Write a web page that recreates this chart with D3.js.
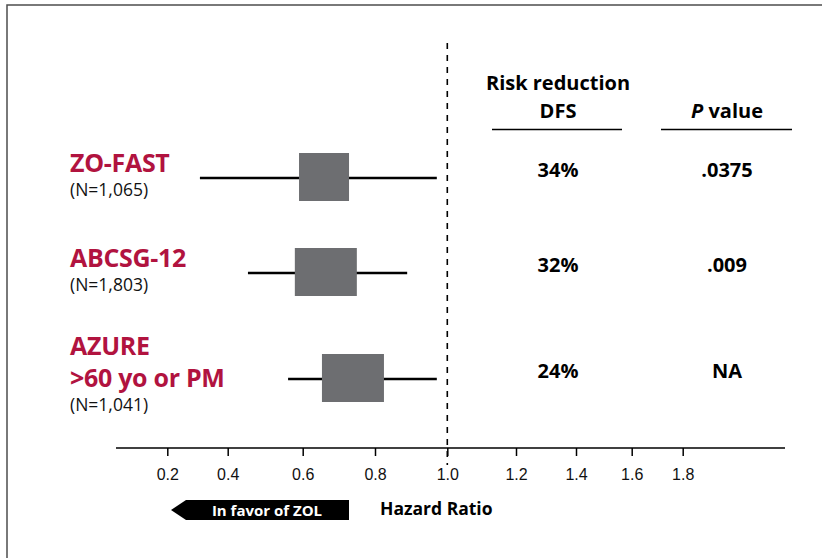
<!DOCTYPE html>
<html>
  <head>
    <meta charset="utf-8">
    <title>Forest plot</title>
    <script src="https://cdn.jsdelivr.net/npm/d3@7"></script>
    <style type="text/css">
      body { margin: 0; background: #fff; }
      text { font-family: "Open Sans", "Noto Sans", sans-serif; }
      .tick text { font-family: "Liberation Sans Narrow", "Arial Narrow", sans-serif; }
    </style>
  </head>
  <body>
    <script>
    // data
    var trials = ["ZO-FAST", "ABCSG-12", "AZURE"];
    var labelLines = [["ZO-FAST"], ["ABCSG-12"], ["AZURE", ">60 yo or PM"]];
    var sizes = ["(N=1,065)", "(N=1,803)", "(N=1,041)"];
    var hr = [0.659, 0.664, 0.739];
    var hrLow = [0.308, 0.454, 0.561];
    var hrHigh = [0.971, 0.889, 0.971];
    var riskReduction = ["34%", "32%", "24%"];
    var pValues = [".0375", ".009", "NA"];
    var tickValues = [0.2, 0.4, 0.6, 0.8, 1.0, 1.2, 1.4, 1.6, 1.8];

    // layout
    var width = 822, height = 558;
    var red = "#b1133f", grey = "#6d6e71";
    var tickPx = [167.3, 227.7, 302.7, 375, 447.3, 516, 576, 631.7, 682.7]; // axis is hand spaced
    var rowY = [178, 273, 379];
    var boxWidth = [50, 62, 62], boxHeight = 48;
    var axisY = 448;

    var x = d3.scaleLinear().domain(tickValues).range(tickPx);
    var y = d3.scaleOrdinal().domain(trials).range(rowY);

    var svg = d3.select("body").append("svg")
      .attr("width", width)
      .attr("height", height);

    // frame
    svg.append("rect")
      .attr("x", 7).attr("y", 5)
      .attr("width", 840).attr("height", 580)
      .attr("fill", "none")
      .attr("stroke", "#4d4d4d")
      .attr("stroke-width", 1.5);

    // reference line at HR = 1
    svg.append("line")
      .attr("x1", x(1)).attr("x2", x(1))
      .attr("y1", 43).attr("y2", 465)
      .attr("stroke", "#000")
      .attr("stroke-width", 1.6)
      .attr("stroke-dasharray", "6,6");

    // axis
    svg.append("line")
      .attr("x1", 116).attr("x2", 785)
      .attr("y1", axisY).attr("y2", axisY)
      .attr("stroke", "#000").attr("stroke-width", 1.5);

    var axis = svg.append("g")
      .attr("transform", "translate(0," + axisY + ")")
      .call(d3.axisBottom(x).tickValues(tickValues).tickSize(8).tickPadding(13)
        .tickFormat(d3.format(".1f")));
    axis.select(".domain").remove();
    axis.selectAll(".tick line").attr("stroke", "#000").attr("stroke-width", 1.5);
    axis.selectAll(".tick text").attr("font-size", 16).attr("fill", "#111");

    // confidence intervals
    svg.selectAll("line.ci")
      .data(trials)
      .enter()
      .append("line")
      .attr("class", "ci")
      .attr("x1", function(d, i) { return x(hrLow[i]); })
      .attr("x2", function(d, i) { return x(hrHigh[i]); })
      .attr("y1", function(d) { return y(d); })
      .attr("y2", function(d) { return y(d); })
      .attr("stroke", "#000")
      .attr("stroke-width", 2.6);

    // point estimates
    svg.selectAll("rect.box")
      .data(trials)
      .enter()
      .append("rect")
      .attr("class", "box")
      .attr("x", function(d, i) { return x(hr[i]) - boxWidth[i] / 2; })
      .attr("y", function(d) { return y(d) - boxHeight / 2 - 1; })
      .attr("width", function(d, i) { return boxWidth[i]; })
      .attr("height", boxHeight)
      .attr("fill", grey);

    // trial labels
    trials.forEach(function(t, i) {
      var lines = labelLines[i];
      var top = y(t) - 6 - (lines.length - 1) * 18;
      lines.forEach(function(s, j) {
        svg.append("text")
          .attr("x", 70)
          .attr("y", top + j * 32)
          .attr("font-size", 25)
          .attr("font-weight", 700)
          .attr("letter-spacing", -0.3)
          .attr("fill", red)
          .text(s);
      });
      svg.append("text")
        .attr("x", 70)
        .attr("y", top + (lines.length - 1) * 32 + 24)
        .attr("font-size", 17.5)
        .attr("fill", "#111")
        .text(sizes[i]);
    });

    // table headers
    var colRisk = 558, colP = 727;
    svg.append("text").attr("x", colRisk).attr("y", 90)
      .attr("text-anchor", "middle").attr("font-size", 20).attr("font-weight", 700)
      .text("Risk reduction");
    svg.append("text").attr("x", colRisk).attr("y", 118)
      .attr("text-anchor", "middle").attr("font-size", 20).attr("font-weight", 700)
      .text("DFS");
    var ph = svg.append("text").attr("x", colP).attr("y", 118)
      .attr("text-anchor", "middle").attr("font-size", 20).attr("font-weight", 700);
    ph.append("tspan").attr("font-style", "italic").text("P");
    ph.append("tspan").text(" value");

    svg.append("line").attr("x1", 492).attr("x2", 622).attr("y1", 129.5).attr("y2", 129.5)
      .attr("stroke", "#000").attr("stroke-width", 1.3);
    svg.append("line").attr("x1", 661).attr("x2", 792).attr("y1", 129.5).attr("y2", 129.5)
      .attr("stroke", "#000").attr("stroke-width", 1.3);

    svg.selectAll("text.rr")
      .data(trials)
      .enter()
      .append("text")
      .attr("class", "rr")
      .attr("x", colRisk)
      .attr("y", function(d) { return y(d) - 1; })
      .attr("text-anchor", "middle")
      .attr("font-size", 20).attr("font-weight", 700)
      .text(function(d, i) { return riskReduction[i]; });

    svg.selectAll("text.pv")
      .data(trials)
      .enter()
      .append("text")
      .attr("class", "pv")
      .attr("x", colP)
      .attr("y", function(d) { return y(d) - 1; })
      .attr("text-anchor", "middle")
      .attr("font-size", 20).attr("font-weight", 700)
      .text(function(d, i) { return pValues[i]; });

    // favour arrow
    svg.append("path")
      .attr("d", "M171,510 L186,500 L349,500 L349,520 L186,520 Z")
      .attr("fill", "#000");
    svg.append("text")
      .attr("x", 267).attr("y", 515.5)
      .attr("text-anchor", "middle")
      .attr("font-family", "'Liberation Sans Narrow', 'Arial Narrow', sans-serif")
      .attr("font-size", 15).attr("font-weight", 700)
      .attr("fill", "#fff")
      .text("In favor of ZOL");

    svg.append("text")
      .attr("x", 380).attr("y", 515)
      .attr("font-size", 17.5).attr("font-weight", 700)
      .text("Hazard Ratio");
    </script>
  </body>
</html>
